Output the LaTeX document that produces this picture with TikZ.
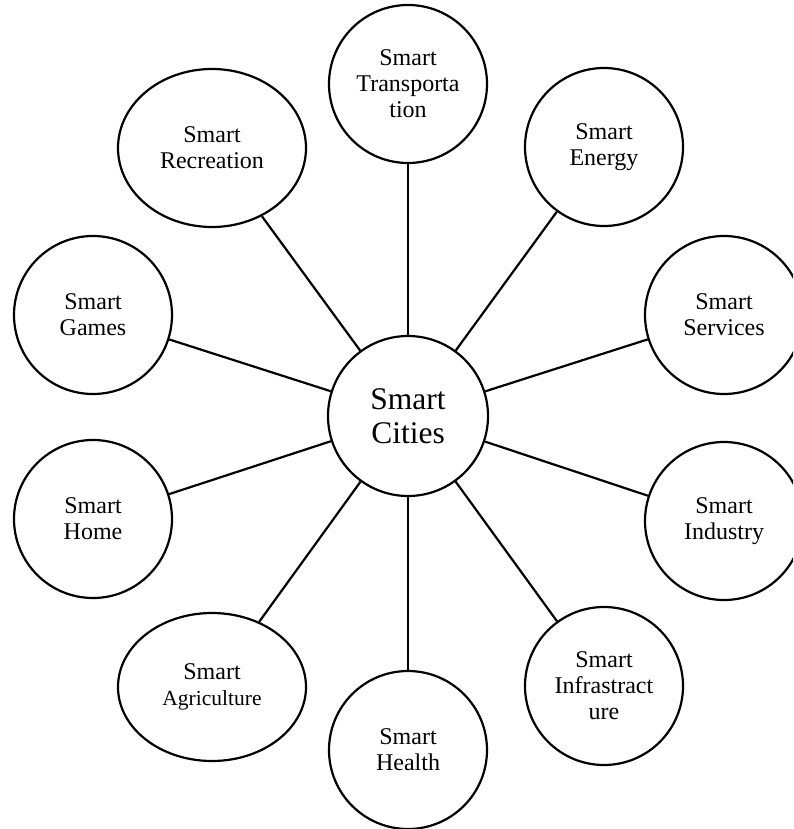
\documentclass[tikz,border=0pt]{standalone}
\usepackage{fontspec}
\setmainfont{Liberation Serif}
\usetikzlibrary{shapes.geometric}
\tikzset{
  bub/.style={draw=black, line width=2.2pt, ellipse, inner sep=0pt, align=center,
    minimum width=158pt, minimum height=158pt,
    font=\fontsize{24}{26}\selectfont},
  hub/.style={bub, minimum width=160pt, minimum height=160pt,
    font=\fontsize{31.5}{34}\selectfont},
  link/.style={draw=black, line width=2.2pt}
}
\begin{document}
\begin{tikzpicture}[x=1pt,y=-1pt]
\useasboundingbox (0,0) rectangle (793,829);
\clip (0,0) rectangle (793,829);
\node[hub] (c) at (408,416) {Smart\\Cities};
\node[bub] (tr) at (408,84) {Smart\\Transporta\\tion};
\node[bub] (en) at (604,147) {Smart\\Energy};
\node[bub] (se) at (724,315) {Smart\\Services};
\node[bub] (in) at (724,521) {Smart\\Industry};
\node[bub] (inf) at (604,686) {Smart\\Infrastract\\ure};
\node[bub] (he) at (408,750) {Smart\\Health};
\node[bub, minimum width=188pt, minimum height=148pt] (ag) at (212,687) {Smart\\{\fontsize{21.5}{26}\selectfont Agriculture}};
\node[bub] (ho) at (93,519) {Smart\\Home};
\node[bub] (ga) at (93,315) {Smart\\Games};
\node[bub, minimum width=188pt, minimum height=158pt] (re) at (212,148) {Smart\\Recreation};
\foreach \n in {tr,en,se,in,inf,he,ag,ho,ga,re}{
  \draw[link] (c) -- (\n);
}
\end{tikzpicture}
\end{document}
